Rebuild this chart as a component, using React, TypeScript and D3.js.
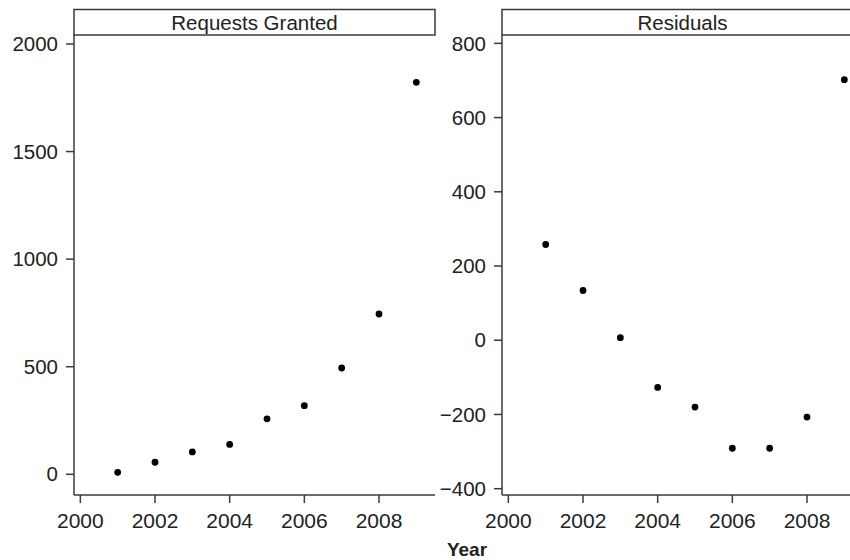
import React from "react";
import * as d3 from "d3";

const years = [2001, 2002, 2003, 2004, 2005, 2006, 2007, 2008, 2009];
const granted = [9, 56, 104, 139, 258, 319, 494, 745, 1822];
const residuals = [258, 134, 7, -127, -180, -291, -291, -207, 702];
const xTicks = [2000, 2002, 2004, 2006, 2008];
const grantedTicks = [0, 500, 1000, 1500, 2000];
const residualTicks = [-400, -200, 0, 200, 400, 600, 800];
const panelTitles = ["Requests Granted", "Residuals"];

const FONT = "'Liberation Sans', Arial, Helvetica, sans-serif";
const AXIS = "#3a3a3a";

interface PanelProps {
  left: number;
  title: string;
  values: number[];
  yTicks: number[];
  yDomain: [number, number];
}

const TOP = 35;
const BOTTOM = 495;
const WIDTH = 361;
const STRIP_TOP = 9.5;

function Panel({ left, title, values, yTicks, yDomain }: PanelProps) {
  const x = d3.scaleLinear().domain([1999.83, 2009.5]).range([left, left + WIDTH]);
  const y = d3.scaleLinear().domain(yDomain).range([BOTTOM, TOP]);
  return (
    <g>
      <rect x={left} y={STRIP_TOP} width={WIDTH} height={TOP - STRIP_TOP} fill="#fff" stroke={AXIS} strokeWidth={1.5} />
      <text x={left + WIDTH / 2} y={30} textAnchor="middle" fontFamily={FONT} fontSize={20.5} fill="#222">
        {title}
      </text>
      <line x1={left} x2={left} y1={TOP} y2={BOTTOM} stroke={AXIS} strokeWidth={1.5} />
      <line x1={left} x2={left + WIDTH} y1={BOTTOM} y2={BOTTOM} stroke={AXIS} strokeWidth={1.5} />
      {yTicks.map((t) => (
        <g key={"y" + t}>
          <line x1={left - 8} x2={left} y1={y(t)} y2={y(t)} stroke={AXIS} strokeWidth={1.5} />
          <text x={left - 16} y={y(t)} dy="0.35em" textAnchor="end" fontFamily={FONT} fontSize={20.5} fill="#222">
            {t < 0 ? "\u2212" + Math.abs(t) : String(t)}
          </text>
        </g>
      ))}
      {xTicks.map((t) => (
        <g key={"x" + t}>
          <line x1={x(t)} x2={x(t)} y1={BOTTOM} y2={BOTTOM + 8} stroke={AXIS} strokeWidth={1.5} />
          <text x={x(t)} y={528} textAnchor="middle" fontFamily={FONT} fontSize={21} fill="#222">
            {String(t)}
          </text>
        </g>
      ))}
      {values.map((v, i) => (
        <circle key={"p" + i} cx={x(years[i])} cy={y(v)} r={3.4} fill="#000" />
      ))}
    </g>
  );
}

export default function App() {
  return (
    <svg
      width={850}
      height={560}
      viewBox="0 0 850 560"
      style={{ position: "absolute", left: 0, top: 0, background: "#fff" }}
    >
      <rect x={0} y={0} width={850} height={560} fill="#fff" />
      <Panel left={74} title={panelTitles[0]} values={granted} yTicks={grantedTicks} yDomain={[-96.2, 2041.8]} />
      <Panel left={502} title={panelTitles[1]} values={residuals} yTicks={residualTicks} yDomain={[-417, 822.5]} />
      <text x={467} y={556} textAnchor="middle" fontFamily={FONT} fontSize={19} fontWeight="bold" fill="#222">
        Year
      </text>
    </svg>
  );
}
